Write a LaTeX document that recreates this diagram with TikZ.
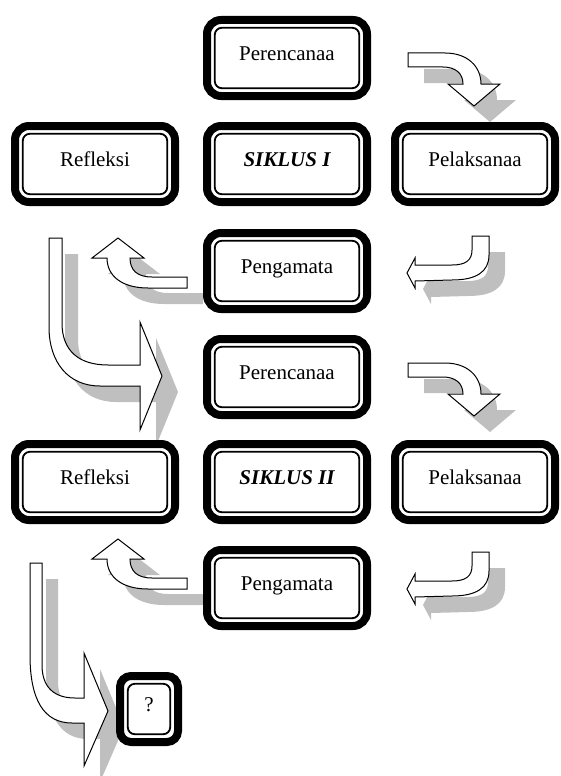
\documentclass[tikz,border=0pt]{standalone}
\usepackage{fontspec}
\setmainfont{Liberation Serif}
\usetikzlibrary{shadows}

\tikzset{
  stage/.style={draw, fill=white, line width=8pt, rounded corners=14pt,
    minimum width=160pt, minimum height=76pt, inner sep=0pt,
    text height=14pt, text depth=9pt, font=\fontsize{21}{24}\selectfont,
    path picture={\draw[line width=1.8pt, rounded corners=7pt]
      ([shift={(7.8pt,7.8pt)}]path picture bounding box.south west) rectangle
      ([shift={(-7.8pt,-7.8pt)}]path picture bounding box.north east);}},
  blockarrow/.style={draw, fill=white, line width=1pt,
    drop shadow={shadow xshift=16pt, shadow yshift=-16pt, fill=black!25, opacity=1}},
}

\begin{document}
\begin{tikzpicture}[x=1pt, y=-1pt]
    \useasboundingbox (0,0) rectangle (560,776);

    % bent arrows, cycle I
    \draw[blockarrow, shift={(408,53)}] (0,0) -- (37,0) .. controls (59,0) and (73,13) .. (73,31)
        -- (92,31) -- (66,53) -- (40,31) -- (55,31) .. controls (55,20) and (47,14) .. (35,14) -- (0,14) -- cycle;
    \draw[blockarrow, shift={(407,236)}] (65,0) -- (82,0) -- (82,19) .. controls (82,36) and (69,44) .. (45,44)
        -- (8,45) -- (8,52) -- (0,37) -- (8,22) -- (8,29) -- (45,29) .. controls (59,29) and (65,24) .. (65,14) -- cycle;
    \draw[blockarrow, shift={(92,238)}] (0,20) -- (26,0) -- (52,20) -- (38,20) .. controls (38,32) and (45,39) .. (60,39)
        -- (95,39) -- (95,50) -- (56,50) .. controls (30,50) and (15,38) .. (15,20) -- cycle;
    \draw[blockarrow] (49,238) -- (62,238) -- (62,323) .. controls (62,350) and (78,365) .. (108,365) -- (140,365)
        -- (140,322) -- (162,376) -- (140,430) -- (140,386) -- (100,386) .. controls (68,386) and (49,362) .. (49,327) -- cycle;

    % bent arrows, cycle II
    \draw[blockarrow, shift={(408,363)}] (0,0) -- (37,0) .. controls (59,0) and (73,13) .. (73,31)
        -- (92,31) -- (66,53) -- (40,31) -- (55,31) .. controls (55,20) and (47,14) .. (35,14) -- (0,14) -- cycle;
    \draw[blockarrow, shift={(407,552)}] (65,0) -- (82,0) -- (82,19) .. controls (82,36) and (69,44) .. (45,44)
        -- (8,45) -- (8,52) -- (0,37) -- (8,22) -- (8,29) -- (45,29) .. controls (59,29) and (65,24) .. (65,14) -- cycle;
    \draw[blockarrow, shift={(92,539)}] (0,20) -- (26,0) -- (52,20) -- (38,20) .. controls (38,32) and (45,39) .. (60,39)
        -- (95,39) -- (95,50) -- (56,50) .. controls (30,50) and (15,38) .. (15,20) -- cycle;
    \draw[blockarrow] (30,563) -- (42,563) -- (42,665) .. controls (42,688) and (55,698) .. (75,698) -- (84,698)
        -- (84,653) -- (108,711) -- (84,766) -- (84,723) -- (72,723) .. controls (44,723) and (30,700) .. (30,655) -- cycle;

    \node[stage] (per1) at (287,58) {Perencanaa};
    \node[stage] (ref1) at (95,164) {Refleksi};
    \node[stage] (sik1) at (287,164) {\bfseries\itshape SIKLUS I};
    \node[stage] (pel1) at (475,164) {Pelaksanaa};
    \node[stage] (pen1) at (287,271) {Pengamata};

    \node[stage] (per2) at (287,377) {Perencanaa};
    \node[stage] (ref2) at (95,482) {Refleksi};
    \node[stage] (sik2) at (287,482) {\bfseries\itshape SIKLUS II};
    \node[stage] (pel2) at (475,482) {Pelaksanaa};
    \node[stage] (pen2) at (287,588) {Pengamata};

    \node[stage, minimum width=58pt, minimum height=66pt, rounded corners=11pt] (hasil) at (149,709) {?};
\end{tikzpicture}
\end{document}
